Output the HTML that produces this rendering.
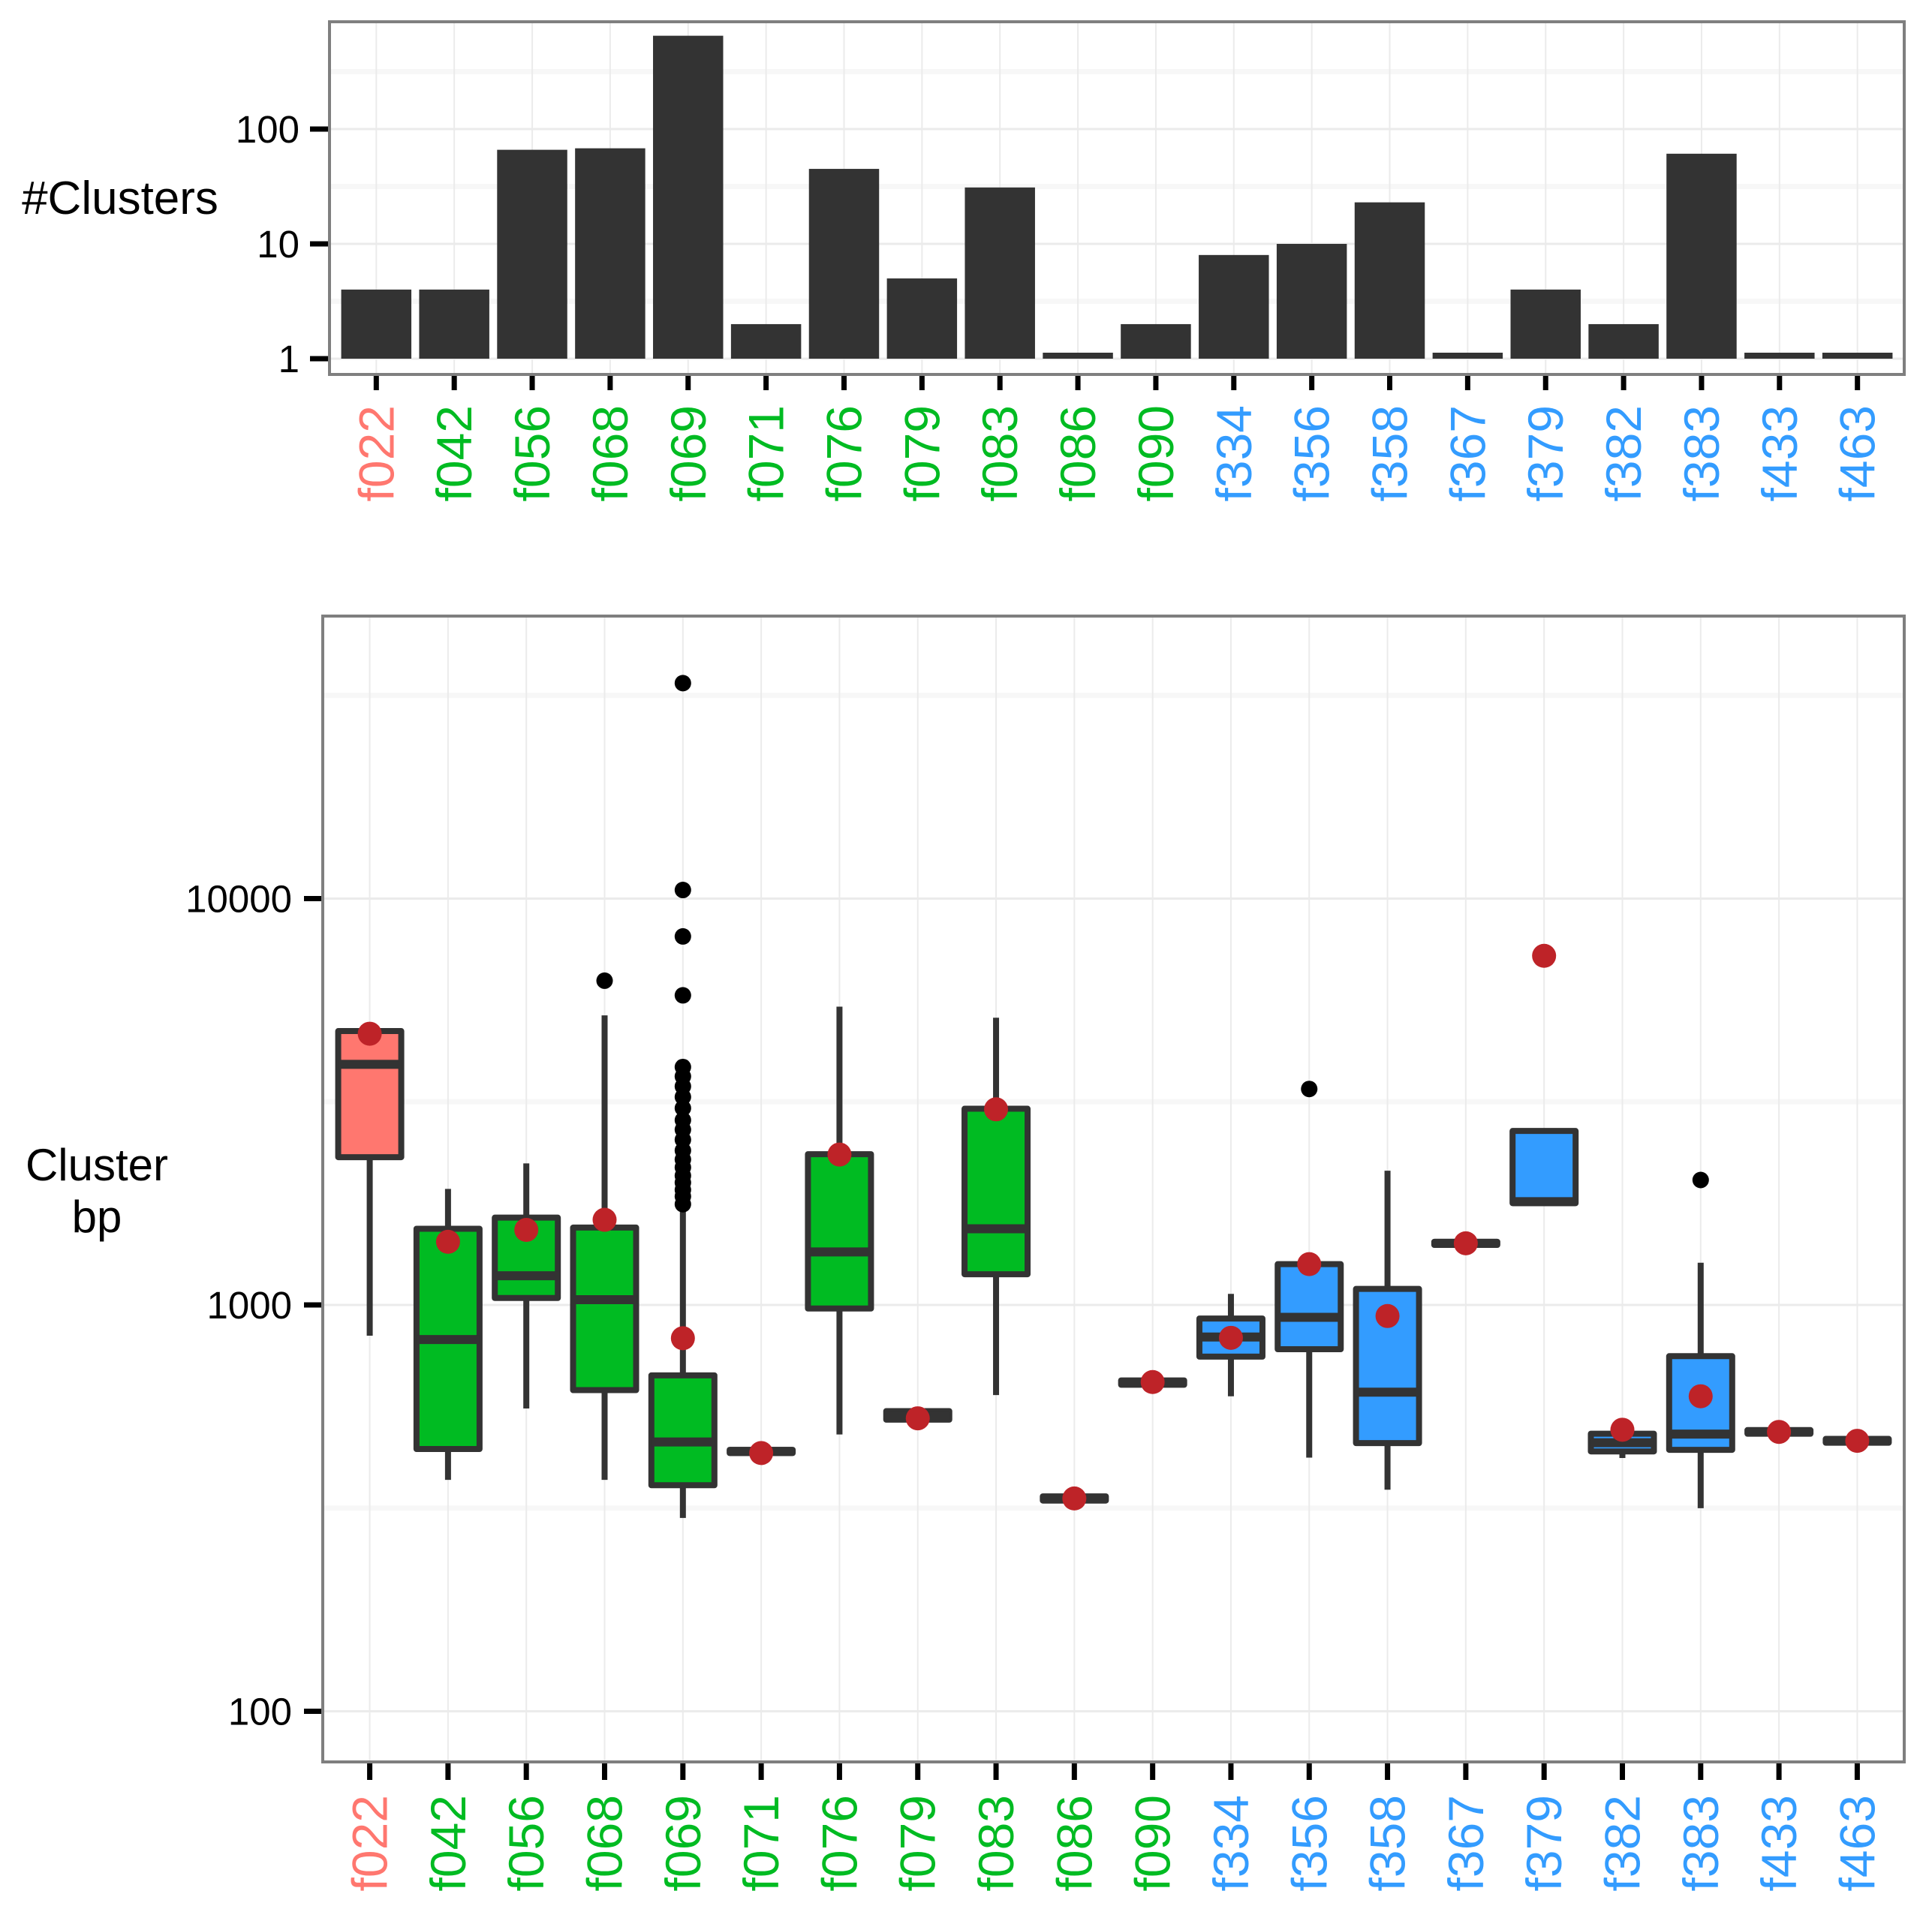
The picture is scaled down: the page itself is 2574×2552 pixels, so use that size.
<!DOCTYPE html>
<html><head><meta charset="utf-8"><style>
html,body{margin:0;padding:0;background:#fff;}
svg{display:block;font-family:"Liberation Sans",Arial,sans-serif;}
</style></head><body>
<svg id="chart" width="2574" height="2552" viewBox="0 0 2574 2552" xmlns="http://www.w3.org/2000/svg">
<g id="topPanel"></g>
<g id="botPanel"></g>
</svg>
<script>
const categories=["f022","f042","f056","f068","f069","f071","f076","f079","f083","f086","f090","f334","f356","f358","f367","f379","f382","f383","f433","f463"];
const groups=["a","b","b","b","b","b","b","b","b","b","b","c","c","c","c","c","c","c","c","c"];
const clusterCounts=[4,4,66,68,650,2,45,5,31,1,2,8,10,23,1,4,2,61,1,1];
const countTicks=[1,10,100];
const bpTicks=[100,1000,10000];
const q1=[2310,442,1040,617,360,432,980,522,1190,330,636,746,778,457,1405,1780,436,440,482,458];
const med=[3910,822,1180,1030,460,436,1350,535,1540,334,644,834,932,610,1418,1795,458,481,487,463];
const q3=[4720,1540,1640,1550,671,440,2350,548,3040,338,652,926,1260,1095,1430,2680,482,748,492,468];
const lowW=[840,371,556,371,299,432,480,522,600,330,636,596,421,351,1405,1780,420,316,482,458];
const highW=[4720,1930,2230,5160,1710,440,5420,548,5090,338,652,1065,1260,2140,1430,2680,482,1270,492,468];
const means=[4650,1430,1530,1620,828,432,2345,526,3030,334,646,830,1260,939,1418,7230,493,596,487,463];
const outliers=[[],[],[],[6280],[1770,1850,1920,2000,2080,2180,2280,2400,2550,2700,2850,3050,3250,3450,3650,3850,5780,8070,10500,33900],[],[],[],[],[],[],[],[3400],[],[],[],[],[2030],[],[]];

const NS="http://www.w3.org/2000/svg";
const fills={a:"#FF776F",b:"#00BB22",c:"#339CFF"};
function mk(parent,tag,attrs,text){const e=document.createElementNS(NS,tag);for(const k in attrs)e.setAttribute(k,attrs[k]);if(text!==undefined)e.textContent=text;parent.appendChild(e);return e;}

const T={l:439,r:2537,t:29,b:499,y1:478,dec:153};
const B={l:430,r:2537,t:821,b:2348,y1000:1739,dec:541.5};
function xTop(i){const s=(T.r-T.l)/20.2;return T.l+s*(0.6+i);}
function xBot(i){const s=(B.r-B.l)/20.2;return B.l+s*(0.6+i);}
function yTop(v){return T.y1-T.dec*Math.log10(v);}
function yBot(v){return B.y1000-B.dec*Math.log10(v/1000);}

const topG=document.getElementById('topPanel');
const botG=document.getElementById('botPanel');

// ---- top panel ----
mk(topG,'rect',{x:T.l,y:T.t,width:T.r-T.l,height:T.b-T.t,fill:'#fff'});
[0.5,1.5,2.5].forEach(m=>{const y=yTop(Math.pow(10,m));if(y>T.t&&y<T.b){
const g=mk(topG,'line',{x1:T.l,x2:T.r,y1:y,y2:y,stroke:'#F7F7F7','stroke-width':7});

}});
countTicks.forEach(v=>{const y=yTop(v);
const g=mk(topG,'line',{x1:T.l,x2:T.r,y1:y,y2:y,stroke:'#EBEBEB','stroke-width':3});


const tk=mk(topG,'line',{x1:413,x2:T.l,y1:y,y2:y,stroke:'#000','stroke-width':7});


const tl=mk(topG,'text',{x:399,y:y+18,'text-anchor':'end','font-size':51,fill:'#000'},String(v));

});
categories.forEach((c,i)=>{const x=xTop(i);
const g=mk(topG,'line',{x1:x,x2:x,y1:T.t,y2:T.b,stroke:'#EBEBEB','stroke-width':2});

});
const bw=(T.r-T.l)/20.2*0.9;
categories.forEach((c,i)=>{const x=xTop(i);let yt=yTop(clusterCounts[i]);if(T.y1-yt<8)yt=T.y1-8;
const b=mk(topG,'rect',{x:x-bw/2,y:yt,width:bw,height:T.y1-yt,fill:'#333333'});


const tk=mk(topG,'line',{x1:x,x2:x,y1:T.b,y2:520,stroke:'#000','stroke-width':7});


const tl=mk(topG,'text',{x:0,y:0,transform:`translate(${x+23},540) rotate(-90)`,'text-anchor':'end','font-size':66,fill:fills[groups[i]]},c);

});
const tb=mk(topG,'rect',{x:T.l,y:T.t,width:T.r-T.l,height:T.b-T.t,fill:'none',stroke:'#7F7F7F','stroke-width':4});


const tt=mk(topG,'text',{x:160,y:285,'text-anchor':'middle','font-size':62,fill:'#000'},'#Clusters');



// ---- bottom panel ----
mk(botG,'rect',{x:B.l,y:B.t,width:B.r-B.l,height:B.b-B.t,fill:'#fff'});
[Math.sqrt(10)*100,Math.sqrt(10)*1000,Math.sqrt(10)*10000].forEach(v=>{const y=yBot(v);
const g=mk(botG,'line',{x1:B.l,x2:B.r,y1:y,y2:y,stroke:'#F7F7F7','stroke-width':7});

});
bpTicks.forEach(v=>{const y=yBot(v);
const g=mk(botG,'line',{x1:B.l,x2:B.r,y1:y,y2:y,stroke:'#EBEBEB','stroke-width':3});


const tk=mk(botG,'line',{x1:405,x2:B.l,y1:y,y2:y,stroke:'#000','stroke-width':7});


const tl=mk(botG,'text',{x:389,y:y+18,'text-anchor':'end','font-size':51,fill:'#000'},String(v));

});
categories.forEach((c,i)=>{const x=xBot(i);
const g=mk(botG,'line',{x1:x,x2:x,y1:B.t,y2:B.b,stroke:'#EBEBEB','stroke-width':2});

});
const boxW=84;
categories.forEach((c,i)=>{const x=xBot(i);
const grp=mk(botG,'g',{});


const w1=mk(grp,'line',{x1:x,x2:x,y1:yBot(q3[i]),y2:yBot(highW[i]),stroke:'#333','stroke-width':8});


const w2=mk(grp,'line',{x1:x,x2:x,y1:yBot(q1[i]),y2:yBot(lowW[i]),stroke:'#333','stroke-width':8});


const yt=yBot(q3[i]),yb=yBot(q1[i]);
const bx=mk(grp,'rect',{x:x-boxW/2,y:yt,width:boxW,height:Math.max(yb-yt,1),fill:fills[groups[i]],stroke:'#333','stroke-width':8,'stroke-linejoin':'round'});


const md=mk(grp,'line',{x1:x-boxW/2,x2:x+boxW/2,y1:yBot(med[i]),y2:yBot(med[i]),stroke:'#333','stroke-width':12});


outliers[i].forEach(v=>{const o=mk(grp,'circle',{cx:x,cy:yBot(v),r:11,fill:'#000'});

});
const mp=mk(grp,'circle',{cx:x,cy:yBot(means[i]),r:16,fill:'#BE2328'});


const tk=mk(botG,'line',{x1:x,x2:x,y1:B.b,y2:2372,stroke:'#000','stroke-width':7});


const tl=mk(botG,'text',{x:0,y:0,transform:`translate(${x+23},2392) rotate(-90)`,'text-anchor':'end','font-size':66,fill:fills[groups[i]]},c);

});
const bb=mk(botG,'rect',{x:B.l,y:B.t,width:B.r-B.l,height:B.b-B.t,fill:'none',stroke:'#7F7F7F','stroke-width':4});


const bt=mk(botG,'text',{x:129,y:1573,'text-anchor':'middle','font-size':60,fill:'#000'},'Cluster');


const bt2=mk(botG,'text',{x:129,y:1642,'text-anchor':'middle','font-size':60,fill:'#000'},'bp');


</script>
</body></html>
